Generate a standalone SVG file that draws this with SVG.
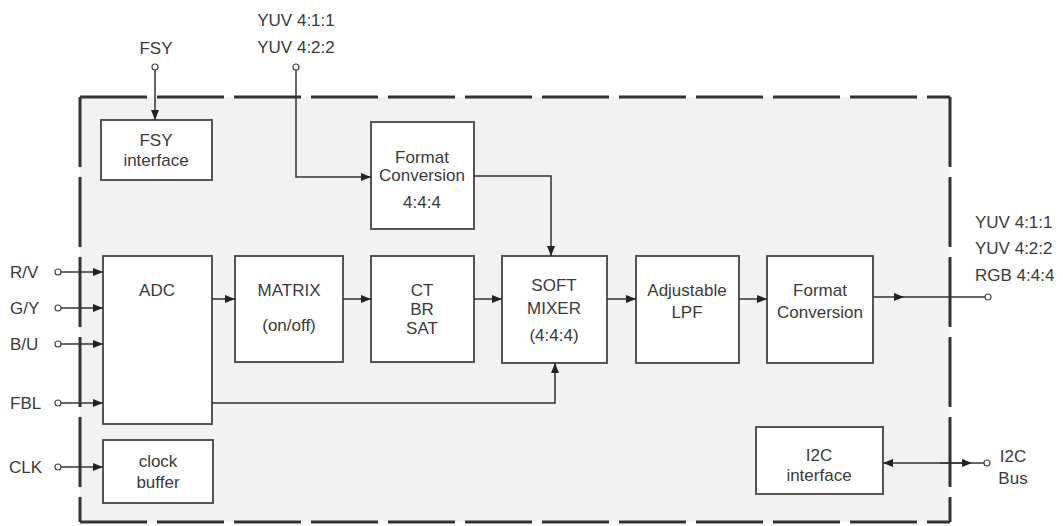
<svg xmlns="http://www.w3.org/2000/svg" width="1063" height="526" viewBox="0 0 1063 526">
<style>
text{font-family:"Liberation Sans",Arial,sans-serif;font-size:17px;fill:#3a3a3a;text-anchor:middle}
.l{text-anchor:start}
.box{fill:#fff;stroke:#555;stroke-width:2}
.w{fill:none;stroke:#333;stroke-width:1.5}
.pin{fill:#fff;stroke:#444;stroke-width:1.2}
</style>
<defs>
<marker id="a" viewBox="0 0 10 8" refX="10" refY="4" markerWidth="10" markerHeight="8" markerUnits="userSpaceOnUse" orient="auto">
<path d="M0,0 L10,4 L0,8 Z" fill="#222"/>
</marker>
</defs>
<rect width="1063" height="526" fill="#fff"/>
<g id="chip">
<rect x="80" y="97" width="870" height="425" fill="#f4f1f5" stroke="none"/>
<path d="M80,97 H950" fill="none" stroke="#333" stroke-width="3" stroke-dasharray="67 10"/>
<path d="M950,97 V522" fill="none" stroke="#333" stroke-width="3" stroke-dasharray="70 10"/>
<path d="M80,522 H950" fill="none" stroke="#333" stroke-width="3" stroke-dasharray="67 10"/>
<path d="M80,97 V522" fill="none" stroke="#333" stroke-width="3" stroke-dasharray="70 10"/>
</g>
<g id="fsy-if"><rect class="box" x="101" y="120" width="111" height="60"/><text x="156" y="146">FSY</text><text x="156" y="166">interface</text></g>
<g id="fc444"><rect class="box" x="371" y="122" width="103" height="107"/><text x="422" y="163">Format</text><text x="422" y="181">Conversion</text><text x="422" y="208">4:4:4</text></g>
<g id="adc"><rect class="box" x="103" y="256" width="109" height="168"/><text x="157" y="296">ADC</text></g>
<g id="clock"><rect class="box" x="103" y="440" width="110" height="63"/><text x="158" y="467">clock</text><text x="158" y="488">buffer</text></g>
<g id="matrix"><rect class="box" x="235" y="256" width="108" height="106"/><text x="289" y="296">MATRIX</text><text x="289" y="331">(on/off)</text></g>
<g id="ct"><rect class="box" x="371" y="256" width="103" height="106"/><text x="422" y="296">CT</text><text x="422" y="315">BR</text><text x="422" y="334">SAT</text></g>
<g id="mixer"><rect class="box" x="502" y="256" width="105" height="107"/><text x="554" y="291">SOFT</text><text x="554" y="314">MIXER</text><text x="554" y="341">(4:4:4)</text></g>
<g id="lpf"><rect class="box" x="636" y="256" width="103" height="107"/><text x="687" y="296">Adjustable</text><text x="687" y="318">LPF</text></g>
<g id="fc"><rect class="box" x="767" y="256" width="106" height="107"/><text x="820" y="296">Format</text><text x="820" y="318">Conversion</text></g>
<g id="i2c"><rect class="box" x="756" y="427" width="127" height="67"/><text x="819" y="461">I2C</text><text x="819" y="481">interface</text></g>
<g id="labels">
<text x="156" y="54">FSY</text>
<text x="296" y="26">YUV 4:1:1</text>
<text x="296" y="53">YUV 4:2:2</text>
<text class="l" x="10" y="278">R/V</text>
<text class="l" x="10" y="314">G/Y</text>
<text class="l" x="10" y="350">B/U</text>
<text class="l" x="10" y="409">FBL</text>
<text class="l" x="9" y="473">CLK</text>
<text class="l" x="975" y="228">YUV 4:1:1</text>
<text class="l" x="975" y="254">YUV 4:2:2</text>
<text class="l" x="975" y="281">RGB 4:4:4</text>
<text x="1013" y="462">I2C</text>
<text x="1013" y="484">Bus</text>
</g>
<g id="connectors">
<path class="w" d="M155,70 V120" marker-end="url(#a)"/>
<path class="w" d="M296,70 V177 H371" marker-end="url(#a)"/>
<path class="w" d="M474,176 H551 V256" marker-end="url(#a)"/>
<path class="w" d="M61,272 H103" marker-end="url(#a)"/>
<path class="w" d="M61,308 H103" marker-end="url(#a)"/>
<path class="w" d="M61,344 H103" marker-end="url(#a)"/>
<path class="w" d="M61,403 H103" marker-end="url(#a)"/>
<path class="w" d="M61,467 H103" marker-end="url(#a)"/>
<path class="w" d="M212,299 H235" marker-end="url(#a)"/>
<path class="w" d="M343,299 H371" marker-end="url(#a)"/>
<path class="w" d="M474,299 H502" marker-end="url(#a)"/>
<path class="w" d="M607,299 H636" marker-end="url(#a)"/>
<path class="w" d="M739,299 H767" marker-end="url(#a)"/>
<path class="w" d="M212,403 H555 V363" marker-end="url(#a)"/>
<path class="w" d="M873,297 H904" marker-end="url(#a)"/>
<path class="w" d="M904,297 H985"/>
<path class="w" d="M968,463 H883" marker-end="url(#a)"/>
<path class="w" d="M940,463 H972" marker-end="url(#a)"/>
<path class="w" d="M972,463 H984"/>
<circle class="pin" cx="155" cy="67" r="3"/>
<circle class="pin" cx="296" cy="67" r="3"/>
<circle class="pin" cx="58" cy="272" r="3"/>
<circle class="pin" cx="58" cy="308" r="3"/>
<circle class="pin" cx="58" cy="344" r="3"/>
<circle class="pin" cx="58" cy="403" r="3"/>
<circle class="pin" cx="58" cy="467" r="3"/>
<circle class="pin" cx="988" cy="297" r="3"/>
<circle class="pin" cx="987" cy="463" r="3"/>
</g>
</svg>
